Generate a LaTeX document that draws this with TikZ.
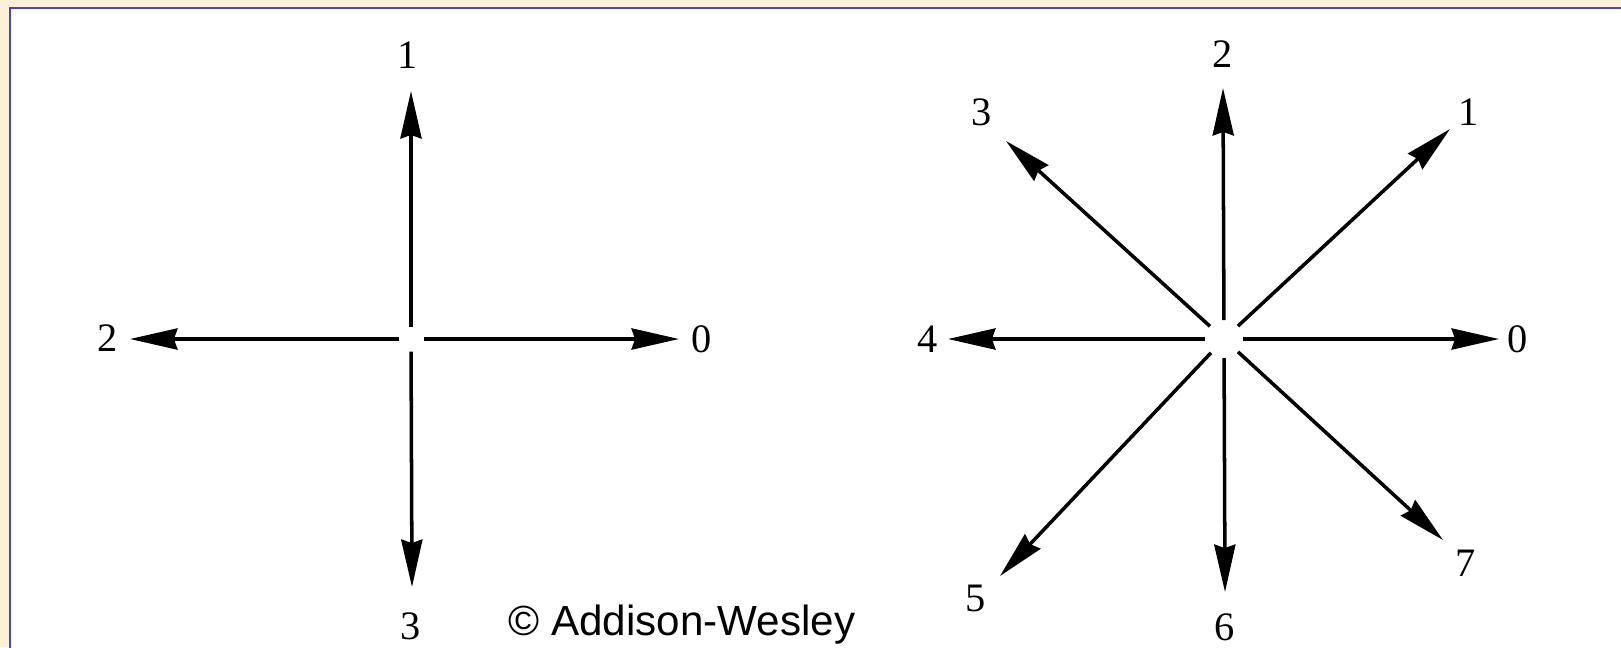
\documentclass[tikz,border=0pt]{standalone}
\usepackage{fontspec}
\setmainfont{Liberation Serif}
\newfontfamily\credfont{Liberation Sans}
\usetikzlibrary{arrows.meta}

\definecolor{pagebg}{RGB}{252,240,216}
\definecolor{framebl}{RGB}{68,68,214}

\begin{document}
\begin{tikzpicture}[x=0.02cm,y=-0.02cm,>={Stealth[length=27pt,width=12pt,inset=2pt]},
  dir/.style={->,line width=2pt},
  lbl/.style={font=\fontsize{23}{28}\selectfont,inner sep=0pt},
  hub/.style={circle,inner sep=0pt,outer sep=0pt}]
  \clip (0,0) rectangle (1621,647);
  \fill[pagebg] (0,0) rectangle (1621,647);
  \draw[framebl,line width=1.5pt,fill=white] (10,8) rectangle (1650,680);

  % four directions
  \node[hub,minimum size=0.5cm] (cL) at (411,339) {};
  \coordinate (a0) at (679,339);
  \coordinate (a1) at (411,91);
  \coordinate (a2) at (130,339);
  \coordinate (a3) at (412,587);
  \node[lbl] (n0) at (702,339) {0};
  \node[lbl] (n1) at (408,55) {1};
  \node[lbl] (n2) at (108,338) {2};
  \node[lbl] (n3) at (411,626) {3};
  \draw[dir] (cL) -- (a0);
  \draw[dir] (cL) -- (a1);
  \draw[dir] (cL) -- (a2);
  \draw[dir] (cL) -- (a3);

  % eight directions
  \node[hub,minimum size=0.76cm] (cR) at (1224,339) {};
  \coordinate (b0) at (1499,339);
  \coordinate (b1) at (1450,129);
  \coordinate (b2) at (1223,88);
  \coordinate (b3) at (1006,141);
  \coordinate (b4) at (948,339);
  \coordinate (b5) at (1000,576);
  \coordinate (b6) at (1225,592);
  \coordinate (b7) at (1443,540);
  \node[lbl] (m0) at (1518,339) {0};
  \node[lbl] (m1) at (1469,112) {1};
  \node[lbl] (m2) at (1223,54) {2};
  \node[lbl] (m3) at (982,112) {3};
  \node[lbl] (m4) at (928,339) {4};
  \node[lbl] (m5) at (976,598) {5};
  \node[lbl] (m6) at (1225,627) {6};
  \node[lbl] (m7) at (1466,563) {7};
  \draw[dir] (cR) -- (b0);
  \draw[dir] (cR) -- (b1);
  \draw[dir] (cR) -- (b2);
  \draw[dir] (cR) -- (b3);
  \draw[dir] (cR) -- (b4);
  \draw[dir] (cR) -- (b5);
  \draw[dir] (cR) -- (b6);
  \draw[dir] (cR) -- (b7);

  \node[anchor=base,inner sep=0pt,font=\credfont\fontsize{24}{28}\selectfont] (cred) at (682,635) {© Addison-Wesley};
\end{tikzpicture}
\end{document}
